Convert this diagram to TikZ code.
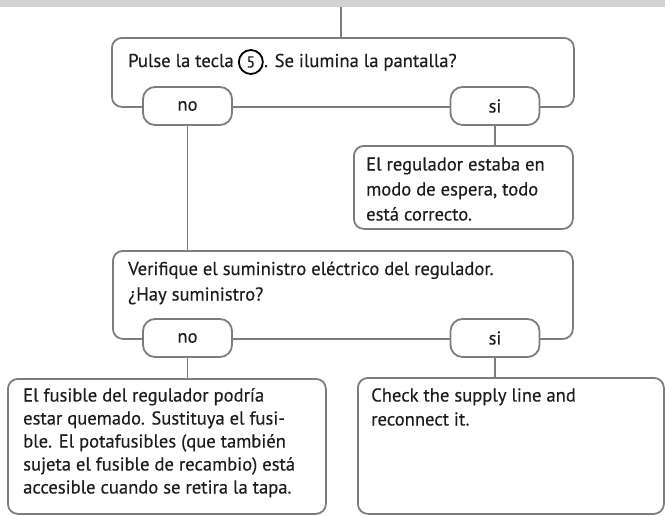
\documentclass[tikz,border=0pt]{standalone}
\usepackage{fontspec}
\setmainfont{PT Sans}[UprightFeatures={FakeBold=0.35}]
\definecolor{linegray}{RGB}{125,125,125}
\definecolor{bandgray}{RGB}{209,210,212}
\definecolor{txt}{RGB}{30,28,28}
\begin{document}
\begin{tikzpicture}[x=1pt,y=-1pt,
  box/.style={draw=linegray,line width=1.8pt,rounded corners=10pt,inner sep=0pt,anchor=north west},
  pill/.style={draw=linegray,line width=1.8pt,rounded corners=12pt,fill=white,minimum width=89pt,minimum height=38pt,inner sep=0pt,font=\fontsize{18.6}{20}\selectfont,text=txt},
  conn/.style={draw=linegray,line width=1.8pt},
  txtline/.style={anchor=base west,inner sep=0pt,font=\fontsize{18.6}{20}\selectfont,text=txt},
  keycirc/.style={circle,draw=black,line width=1.8pt,minimum size=24pt,inner sep=0pt,font=\fontsize{16}{16}\selectfont,text=txt}]
\useasboundingbox (0,0) rectangle (665,515);
\fill[bandgray] (0,0) rectangle (665,7);

% boxes
\node[box,minimum width=462pt,minimum height=69pt] (q1) at (111,37) {};
\node[box,minimum width=219pt,minimum height=83pt] (r1) at (353,145) {};
\node[box,minimum width=460pt,minimum height=88pt] (q2) at (112,250) {};
\node[box,minimum width=318pt,minimum height=135pt] (a1) at (7,378) {};
\node[box,minimum width=306pt,minimum height=136pt] (a2) at (357,377) {};

% pills
\node[pill] (no1) at (187.5,106) {no};
\node[pill] (si1) at (495,106) {si};
\node[pill] (no2) at (187.5,338) {no};
\node[pill] (si2) at (495,338) {si};

% connectors
\coordinate (top) at (341,7);
\draw[conn] (top) -- (top |- q1.north);
\draw[conn] (no1.south) -- (no1.south |- q2.north);
\draw[conn] (si1.south) -- (si1.south |- r1.north);
\draw[conn] (no2.south) -- (no2.south |- a1.north);
\draw[conn] (si2.south) -- (si2.south |- a2.north);

% texts
\node[txtline] (t1a) at (128,67) {Pulse la tecla};
\path (t1a.base east) ++(17,-5) node[keycirc] (k5) {5};
\path (k5.center) ++(13,5) node[txtline] (t1b) {. Se ilumina la pantalla?};

\node[txtline] (r1a) at (366,170.5) {El regulador estaba en};
\node[txtline] (r1b) at (366,195.5) {modo de espera, todo};
\node[txtline] (r1c) at (366,220.5) {está correcto.};

\node[txtline] (q2a) at (128,275) {Verifique el suministro eléctrico del regulador.};
\node[txtline] (q2b) at (128,300.5) {¿Hay suministro?};

\node[txtline] (a1a) at (23,401.5) {El fusible del regulador podría};
\node[txtline] (a1b) at (23,424.5) {estar quemado. Sustituya el fusi-};
\node[txtline] (a1c) at (23,447.5) {ble. El potafusibles (que también};
\node[txtline] (a1d) at (23,470.5) {sujeta el fusible de recambio) está};
\node[txtline] (a1e) at (23,493.5) {accesible cuando se retira la tapa.};

\node[txtline] (a2a) at (371,401.5) {Check the supply line and};
\node[txtline] (a2b) at (371,425.5) {reconnect it.};
\end{tikzpicture}
\end{document}
